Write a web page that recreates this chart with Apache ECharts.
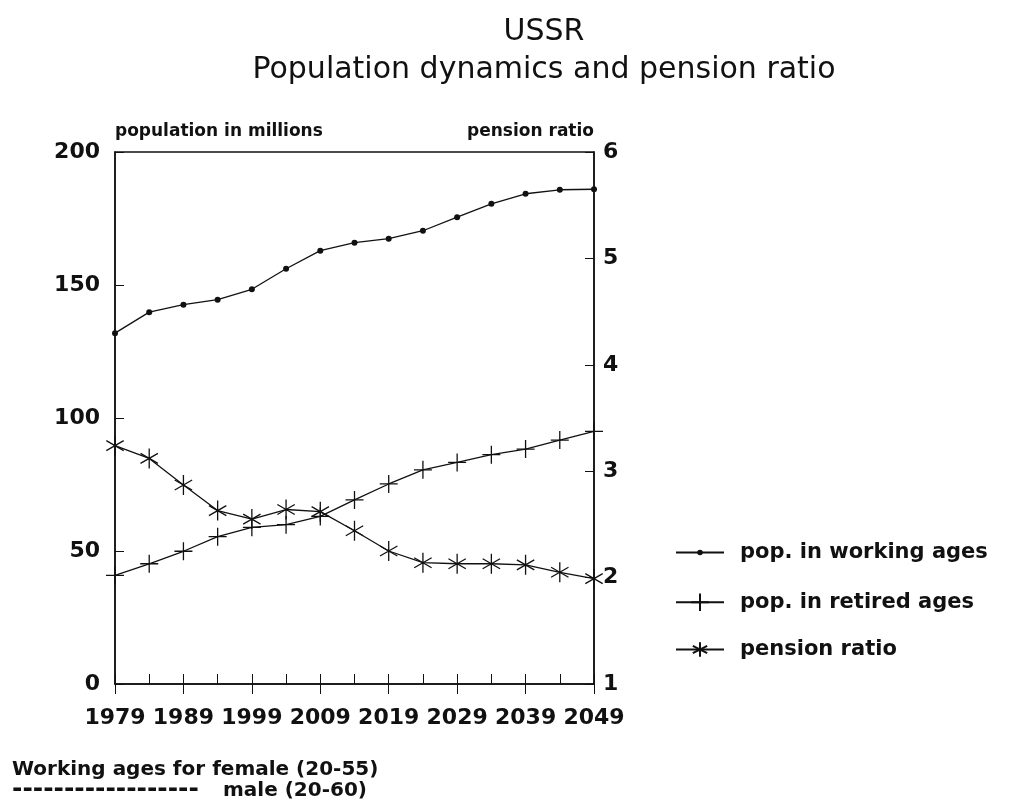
<!DOCTYPE html>
<html>
<head>
<meta charset="utf-8">
<script src="https://cdn.jsdelivr.net/npm/echarts@6/dist/echarts.min.js"></script>
<style>
  html, body { margin: 0; padding: 0; background: #fff; }
  #chart { width: 1013px; height: 802px; }
</style>
</head>
<body>
<div id="chart"></div>
<script>
const years = ['1979', '1984', '1989', '1994', '1999', '2004', '2009', '2014',
  '2019', '2024', '2029', '2034', '2039', '2044', '2049'];
const working = [131.9, 139.8, 142.6, 144.5, 148.4, 156.1, 162.9, 165.9, 167.4, 170.4, 175.5, 180.5, 184.3, 185.8, 186.0];
const retired = [40.8, 45.2, 49.9, 55.4, 58.9, 59.9, 63.0, 69.2, 75.2, 80.5, 83.3, 86.2, 88.3, 91.7, 95.0];
const pension = [3.24, 3.12, 2.87, 2.63, 2.55, 2.64, 2.62, 2.44, 2.25, 2.14, 2.13, 2.13, 2.12, 2.05, 1.99];

const FONT = '"DejaVu Sans", Verdana, sans-serif';
const INK = '#111';
const plusPath = 'path://M0,-1L0,1M-1,0L1,0';
const starPath = 'path://M0,-1L0,1M-0.87,-0.5L0.87,0.5M-0.87,0.5L0.87,-0.5';

const chart = echarts.init(document.getElementById('chart'));

// one legend per series so each icon can have its own size
function legendFor(name, top, h) {
  return {
    orient: 'vertical',
    left: 670,
    top: top,
    itemWidth: 48,
    itemHeight: h,
    textStyle: { fontFamily: FONT, fontSize: 21, fontWeight: 'bold', color: INK, padding: [0, 0, 0, 11] },
    data: [name]
  };
}

const axisText = { fontFamily: FONT, fontSize: 22, fontWeight: 'bold', color: INK };

const option = {
  animation: false,
  backgroundColor: '#fff',
  title: {
    text: 'USSR\nPopulation dynamics and pension ratio',
    left: 539,
    textAlign: 'center',
    top: 8,
    textStyle: { fontFamily: FONT, fontSize: 30, fontWeight: 'normal', color: INK, lineHeight: 38 }
  },
  grid: {
    left: 115, right: 419, top: 152, bottom: 118,
    show: true, borderColor: INK, borderWidth: 1.5, backgroundColor: 'transparent'
  },
  legend: [
    legendFor('pop. in working ages', 537, 7),
    legendFor('pop. in retired ages', 586, 22),
    legendFor('pension ratio', 634, 18)
  ],
  xAxis: [
    {
      type: 'category',
      data: years,
      boundaryGap: false,
      axisLine: { lineStyle: { color: INK, width: 1.5 } },
      axisTick: { inside: true, length: 10, interval: 0, lineStyle: { color: INK } },
      axisLabel: Object.assign({ interval: 1, margin: 23 }, axisText),
      splitLine: { show: false }
    },
    {
      // second tick row: the 10-year ticks also reach below the axis
      type: 'category',
      data: years,
      position: 'bottom',
      boundaryGap: false,
      axisLine: { show: false },
      axisTick: { inside: false, length: 10, interval: 1, lineStyle: { color: INK } },
      axisLabel: { show: false },
      splitLine: { show: false }
    }
  ],
  yAxis: [
    {
      type: 'value', min: 0, max: 200, interval: 50,
      name: 'population in millions',
      nameLocation: 'end',
      nameGap: 12,
      nameTextStyle: { fontFamily: FONT, fontSize: 17, fontWeight: 'bold', color: INK, align: 'left' },
      axisLine: { show: true, lineStyle: { color: INK, width: 1.5 } },
      axisTick: { show: true, inside: true, length: 9, lineStyle: { color: INK } },
      axisLabel: Object.assign({ margin: 15 }, axisText),
      splitLine: { show: false }
    },
    {
      type: 'value', min: 1, max: 6, interval: 1, position: 'right',
      name: 'pension ratio',
      nameLocation: 'end',
      nameGap: 12,
      nameTextStyle: { fontFamily: FONT, fontSize: 17, fontWeight: 'bold', color: INK, align: 'right' },
      axisLine: { show: true, lineStyle: { color: INK, width: 1.5 } },
      axisTick: { show: true, inside: true, length: 9, lineStyle: { color: INK } },
      axisLabel: Object.assign({ margin: 9 }, axisText),
      splitLine: { show: false }
    }
  ],
  series: [
    {
      name: 'pop. in working ages',
      type: 'line',
      data: working,
      yAxisIndex: 0,
      symbol: 'circle',
      symbolSize: 6,
      showAllSymbol: true,
      lineStyle: { color: INK, width: 1.3 },
      itemStyle: { color: INK }
    },
    {
      name: 'pop. in retired ages',
      type: 'line',
      data: retired,
      yAxisIndex: 0,
      symbol: plusPath,
      symbolSize: 18,
      symbolKeepAspect: true,
      showAllSymbol: true,
      lineStyle: { color: INK, width: 1.3 },
      itemStyle: { color: 'none', borderColor: INK, borderWidth: 1.3 }
    },
    {
      name: 'pension ratio',
      type: 'line',
      data: pension,
      yAxisIndex: 1,
      symbol: starPath,
      symbolSize: 20,
      symbolKeepAspect: true,
      showAllSymbol: true,
      lineStyle: { color: INK, width: 1.3 },
      itemStyle: { color: 'none', borderColor: INK, borderWidth: 1.3 }
    }
  ],
  graphic: [
    {
      type: 'text', left: 12, top: 760,
      style: { text: 'Working ages for female (20-55)', font: 'bold 20px ' + FONT, fill: INK }
    },
    {
      type: 'text', left: 12, top: 777,
      style: { text: '------------------', font: 'bold 25px ' + FONT, fill: INK }
    },
    {
      type: 'text', left: 223, top: 781,
      style: { text: 'male (20-60)', font: 'bold 20px ' + FONT, fill: INK }
    }
  ]
};

chart.setOption(option);
</script>
</body>
</html>
